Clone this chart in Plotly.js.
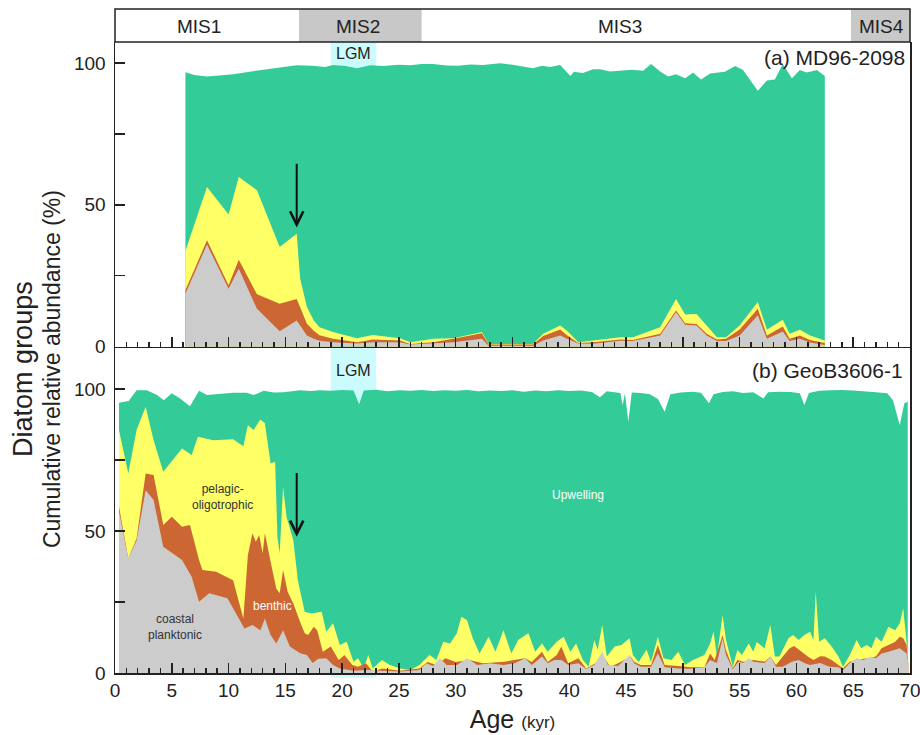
<!DOCTYPE html>
<html>
<head>
<meta charset="utf-8">
<script src="https://cdn.plot.ly/plotly-3.0.1.min.js"></script>
<style>html,body{margin:0;padding:0;background:#fff;}#chart{width:920px;height:735px;}</style>
</head>
<body>
<div id="chart"></div>
<script>
// ---------- (a) MD96-2098 : cumulative relative abundance (%) ----------
const aAgeTop = [6.2,7.0,8.1,10.4,12.0,13.4,15.0,16.0,17.4,18.5,19.2,20.3,21.3,22.5,23.6,25.0,26.0,27.0,28.0,29.2,30.2,31.3,32.4,33.9,35.0,35.5,36.8,37.6,38.3,39.2,40.1,40.4,41.2,42.1,42.7,43.6,44.5,45.5,46.5,47.2,48.0,48.7,49.4,50.2,50.9,51.6,52.4,53.0,53.7,54.6,55.3,56.6,57.4,58.1,58.8,59.6,60.3,60.9,61.8,62.5];
const aUpwelling = [96.7,95.8,95.2,96.0,97.0,97.8,98.5,99.2,99.0,98.6,99.3,98.9,98.1,99.2,98.9,99.4,99.2,99.6,99.6,99.1,99.0,99.5,99.3,99.9,99.4,99.0,98.1,99.0,98.6,99.3,95.4,96.9,96.5,97.8,97.8,97.0,97.3,97.6,97.3,99.6,97.0,95.2,96.0,94.6,96.6,94.2,96.3,96.6,96.9,98.9,97.5,90.2,93.8,94.2,99.6,94.6,97.5,96.6,97.5,95.4];
const aAgeLow = [6.2,8.1,10.0,10.9,12.5,14.5,16.0,16.3,16.9,17.5,18.0,19.2,21.3,22.7,25.1,26.0,28.0,29.8,32.3,32.9,36.8,37.7,39.2,39.8,40.8,42.1,44.5,45.6,48.0,49.4,50.2,51.2,52.1,53.0,53.8,55.0,56.6,57.4,58.8,59.4,60.3,61.2,62.5];
const aPelagic = [33.7,56.3,46.6,59.8,55.1,35.1,39.8,24,13.9,9.2,6.8,5.1,2.9,4.1,2.9,1.5,2.7,2.9,5.1,0.9,0.9,4.5,7.4,5.6,1.5,2.1,3.3,3.3,6.8,16.8,11.3,11.5,7.4,3.3,3.3,7.4,15.7,5.9,9.4,4.5,5.9,3.9,2.1];
const aBenthic = [19.8,37.5,21.6,30.6,18.4,15.1,16.8,14,8.0,5.6,4.0,2.7,1.5,2.5,2.1,0.9,1.5,2.7,4.7,0.7,0.7,3.7,6.0,4.0,1.2,1.5,2.5,2.3,4.5,12.7,8.2,7.9,4.5,2.5,2.7,6.0,13.3,3.9,7.1,2.7,3.9,2.3,1.2];
const aCoastal = [18.6,36.0,20.4,27.4,13.3,5.4,9.2,7.5,3.9,2.7,2.0,1.5,1.1,1.5,1.5,0.7,1.1,1.5,2.7,0.3,0.3,2.1,3.9,2.7,1.1,1.0,2.0,1.9,3.9,12.1,7.7,7.4,3.9,1.9,1.9,3.9,11.0,2.7,5.3,1.9,2.7,1.4,0.5];

// ---------- (b) GeoB3606-1 ----------
const bAgeUpw = [0.35,1.2,1.9,2.8,3.7,4.3,5.0,5.8,6.6,7.4,8.1,9.0,10.4,11.6,12.2,13.1,14.0,14.8,15.5,16.3,17.2,18.0,19.0,20.0,21.0,21.5,21.9,23.0,24.0,25.0,26,27,28,29,30,31,32,33,34,35,36,37,38,39,40,41,42,42.7,43.3,44.0,44.5,44.7,44.9,45.2,45.5,46.3,47.1,47.8,48.4,48.9,49.8,50.8,51.6,52.3,52.7,53.5,54.4,55.3,56.2,57.1,57.5,58.5,59.5,60.3,60.7,61.1,62.0,63.0,64.0,65.0,66,67,68,68.5,69.1,69.5,69.8];
const bUpwelling = [95.2,95.8,99.6,99.6,97.9,96.1,98.5,96.5,94.0,99.4,97.9,98.3,98.7,98.7,97.9,99.4,98.8,98.9,99.3,99.6,99.3,99.6,99.4,99.7,99.5,94.7,99.5,99.8,99.2,99.6,99.4,99.7,99.3,99.6,99.4,99.7,99.2,99.5,99.3,99.6,99.1,99.5,99.2,99.6,99.3,99.5,99.0,97.1,99.2,99.0,98.6,94.4,98.5,88.5,98.8,98.6,98.2,96.5,92.0,98.2,98.8,99.1,98.7,95.0,98.2,99.0,99.2,98.6,98.9,96.7,98.9,99.1,99.0,98.5,94.4,98.6,99.4,99.6,99.7,99.5,99.3,98.9,98.5,96.1,87.3,95.0,95.5];
const bAgePel = [0.35,1.17,1.9,2.7,3.4,4.25,5.9,6.75,7.3,8.65,10.4,11.3,11.7,12.2,12.8,13.2,13.7,14.1,14.3,14.5,14.8,15.1,15.7,16.1,16.7,17.3,18.2,18.6,19.2,19.8,20.4,21.0,21.4,21.9,22.3,22.7,23.5,24.2,25.1,26.0,26.8,27.7,28.3,28.9,29.5,30.1,30.5,31.0,31.5,32.1,32.9,33.5,34.2,34.9,35.5,36.4,37.0,37.6,38.1,38.9,39.5,40.1,40.6,41.2,41.7,42.2,42.5,42.9,43.3,44.0,44.6,45.3,45.6,46.1,46.8,47.2,47.8,48.3,49.0,49.6,50.2,50.9,51.9,52.4,52.7,53.0,53.5,53.8,54.4,54.8,55.2,55.8,56.2,56.5,57.2,57.7,58.1,58.5,59.3,59.7,60.2,60.7,61.2,61.5,61.7,62.0,62.5,63.1,63.7,64.1,64.7,65.3,65.7,66.2,66.6,67.0,67.5,68.1,68.7,69.1,69.4,69.7,69.85];
const bPelagic = [85.6,70.3,85.6,93.8,82.0,70.9,79.1,76.8,83.2,82.0,82.3,79.9,87.3,85.6,89.3,88.0,73.8,74.4,48.0,42.1,65.6,55.0,46.8,32.7,21.6,21.0,21.6,14.5,17.5,9.9,11.0,4.0,5.2,1.6,6.3,1.6,4.6,2.8,1.6,1.1,2.8,6.3,4.6,11.0,10.4,14.0,19.8,18.6,12.2,6.9,12.8,7.5,15.1,6.9,11.6,14.0,7.5,10.4,7.5,11.0,12.8,7.5,10.4,4.6,2.2,11.6,8.2,16.9,5.8,9.3,9.9,12.2,6.3,3.9,8.2,3.9,12.8,5.2,4.6,7.5,2.8,4.6,6.3,10.4,14.5,5.8,20.4,11.6,2.2,8.1,6.3,10.4,7.5,10.9,8.7,16.9,5.8,5.8,12.2,13.4,11.6,13.4,14.5,11.6,28.6,11.0,12.2,9.3,5.8,2.2,6.3,11.6,8.7,9.9,8.7,12.8,11.0,16.3,15.1,17.5,22.8,12.2,4.6];
const bAgeBen = [0.35,1.17,1.9,2.7,3.4,4.25,5.0,5.9,6.6,7.4,7.7,8.9,10.4,11.3,11.7,12.1,12.4,12.7,13.0,13.2,13.7,14.2,14.5,14.8,15.2,15.7,16.3,16.7,17.0,17.5,17.8,18.3,19.0,19.7,20.2,20.9,21.4,22.1,22.7,23.5,25.1,26.8,27.5,28.3,29.1,30.0,31.2,32.4,34.3,35.2,36.1,36.7,37.6,38.1,38.9,39.3,39.9,40.8,41.5,42.3,43.0,43.6,44.3,45.4,45.7,46.3,47.2,47.8,48.4,49.6,50.7,51.9,52.4,52.8,53.5,53.8,54.4,54.8,55.3,56.2,57.2,57.7,58.2,58.8,59.4,59.8,60.4,61.0,61.5,62.1,62.5,63.1,63.7,64.1,64.7,65.3,66.2,67.0,67.5,68.1,68.7,69.1,69.4,69.7,69.85];
const bBenthic = [58.6,40.4,47.4,70.3,69.7,52.1,55.0,51.5,52.1,39.8,36.3,35.7,32.7,19.2,41.5,49.2,46.2,48.6,42.1,49.2,39.2,29.8,28.1,36.3,28.6,24.5,18.0,14.0,13.4,16.3,15.1,7.5,9.3,4.6,6.3,2.8,2.2,3.4,0.4,1.6,0.8,1.6,3.9,2.8,5.2,3.9,4.6,3.4,4.0,4.6,5.2,3.9,7.5,3.9,6.3,9.3,3.4,5.2,1.6,3.4,5.8,2.2,3.4,5.8,4.0,2.8,2.8,9.9,2.8,2.5,2.0,2.0,6.9,4.6,13.4,8.1,1.7,4.6,4.0,4.6,4.0,5.8,2.8,5.8,8.7,9.5,7.5,5.8,4.6,5.9,5.8,4.6,2.8,1.7,4.0,4.6,5.2,5.8,8.7,9.9,11.0,12.8,12.2,9.9,3.4];
const bAgeCoa = [0.35,1.17,1.9,2.7,3.4,4.25,5.9,6.75,7.4,8.3,9.9,11.4,12.1,12.8,13.2,13.7,14.2,14.8,15.4,16.3,16.9,17.4,17.9,18.6,19.2,19.8,21.0,22.2,23.5,25.1,26.8,27.4,28.0,28.6,29.2,30.1,31.0,31.9,33.0,34.2,35.2,36.1,36.7,37.6,38.1,38.7,39.3,39.9,40.8,41.5,42.2,42.9,43.4,44.3,45.3,45.7,46.3,47.2,47.8,48.4,49.6,50.7,51.9,52.4,53.0,53.5,53.8,54.4,54.9,55.3,55.8,56.2,57.2,57.7,58.2,58.8,59.6,60.2,60.7,61.2,62.1,62.9,63.7,64.1,64.7,65.3,65.9,66.5,67.0,67.5,68.1,68.7,69.1,69.7,69.85];
const bCoastal = [57.0,40.4,46.7,64.4,60.9,44.5,39.8,33.9,25.1,28.1,26.3,15.7,16.9,15.1,19.2,13.4,10.4,15.1,9.3,7.0,6.3,3.5,5.0,5.2,2.8,1.6,0.8,1.1,0.8,0.5,1.1,3.4,2.5,5.2,2.8,2.8,5.2,2.8,3.4,2.8,3.4,5.2,2.8,5.8,3.4,4.6,4.6,2.8,3.4,1.4,2.8,7.5,2.8,2.5,6.3,3.4,2.2,2.2,6.9,2.0,1.6,1.5,2.0,4.6,3.5,12.2,6.3,1.3,4.0,3.5,5.2,4.0,3.5,5.8,2.2,2.2,4.0,4.6,3.5,2.8,3.5,2.2,2.0,1.1,3.5,5.2,4.6,5.8,5.2,6.9,7.5,8.1,8.7,6.9,3.4];

// ---------- stages, LGM, arrows ----------
const misNames = ['MIS1','MIS2','MIS3','MIS4'];
const misLabelAge = [7.4,21.4,44.5,67.5];
const misShaded = [[16.2,27.0],[64.8,70.0]];
const lgmRange = [19.0,23.0];
const arrowAge = 16.0;
const arrowA = [42, 65];   // tip, tail (%), panel a
const arrowB = [48, 71];   // tip, tail (%), panel b

const FONT = '"Liberation Sans", Arial, Helvetica, sans-serif';
const C = {upw:'#33cc99', pel:'#ffff66', ben:'#cc6633', coa:'#cccccc', lgm:'#ccfbfd', mis:'#c8c8c8', ink:'#222222'};

function area(x, y, color, xa, ya) {
  return {type:'scatter', mode:'lines', x:x, y:y, fill:'tozeroy', fillcolor:color,
          line:{width:0, color:color}, xaxis:xa, yaxis:ya, hoverinfo:'skip', showlegend:false};
}

const data = [
  area(aAgeTop, aUpwelling, C.upw, 'x2', 'y2'),
  area(aAgeLow, aPelagic, C.pel, 'x2', 'y2'),
  area(aAgeLow, aBenthic, C.ben, 'x2', 'y2'),
  area(aAgeLow, aCoastal, C.coa, 'x2', 'y2'),
  area(bAgeUpw, bUpwelling, C.upw, 'x', 'y'),
  area(bAgePel, bPelagic, C.pel, 'x', 'y'),
  area(bAgeBen, bBenthic, C.ben, 'x', 'y'),
  area(bAgeCoa, bCoastal, C.coa, 'x', 'y')
];

const yB = [0, 0.4917], yA = [0.4917, 0.9503];

const xBase = {range:[0,70], tickmode:'linear', tick0:0, dtick:5, ticks:'inside', ticklen:10, tickwidth:1.5,
  tickcolor:C.ink, showline:true, linecolor:C.ink, linewidth:1.5, showgrid:false, zeroline:false,
  ticklabeloverflow:'allow',
  tickfont:{size:19, color:C.ink, family:FONT},
  minor:{tick0:0, dtick:1, ticks:'inside', ticklen:5, tickwidth:1.5, tickcolor:C.ink, showgrid:false}};
const yBase = {tickmode:'array', tickvals:[0,25,50,75,100], ticktext:['0','','50','','100'], ticks:'inside',
  ticklen:10, tickwidth:1.5, tickcolor:C.ink, showline:true, mirror:true, linecolor:C.ink, linewidth:1.5,
  showgrid:false, zeroline:false, tickfont:{size:19, color:C.ink, family:FONT}, ticklabelstandoff:4};

const shapes = [
  {type:'rect', xref:'x', yref:'paper', x0:lgmRange[0], x1:lgmRange[1], y0:-0.007, y1:yA[1],
   fillcolor:C.lgm, line:{width:0}, layer:'below'}
];
misShaded.forEach(r => shapes.push({type:'rect', xref:'x', yref:'paper', x0:r[0], x1:r[1], y0:yA[1], y1:1,
   fillcolor:C.mis, line:{width:0}, layer:'below'}));
shapes.push({type:'rect', xref:'paper', yref:'paper', x0:0, x1:1, y0:yA[1], y1:1,
   fillcolor:'rgba(0,0,0,0)', line:{width:1.5, color:C.ink}});

const annotations = [];
misNames.forEach((n,i) => annotations.push({xref:'x', yref:'paper', x:misLabelAge[i], y:0.9729, text:n,
   showarrow:false, font:{size:19, color:C.ink}, xanchor:'center', yanchor:'middle'}));
[0.9337, 0.4563].forEach(yy => annotations.push({xref:'x', yref:'paper', x:(lgmRange[0]+lgmRange[1])/2, y:yy,
   text:'LGM', showarrow:false, font:{size:16, color:C.ink}, xanchor:'center', yanchor:'middle'}));
annotations.push({xref:'paper', yref:'paper', x:0.9962, y:0.9277, text:'(a) MD96-2098', showarrow:false,
   font:{size:21, color:C.ink}, xanchor:'right', yanchor:'middle'});
annotations.push({xref:'paper', yref:'paper', x:0.9937, y:0.4563, text:'(b) GeoB3606-1', showarrow:false,
   font:{size:21, color:C.ink}, xanchor:'right', yanchor:'middle'});
annotations.push({xref:'paper', yref:'paper', x:-0.1157, y:0.458, text:'Diatom groups', textangle:-90,
   showarrow:false, font:{size:27, color:C.ink}, xanchor:'center', yanchor:'middle'});
annotations.push({xref:'paper', yref:'paper', x:-0.079, y:0.458, text:'Cumulative relative abundance (%)', textangle:-90,
   showarrow:false, font:{size:23, color:C.ink}, xanchor:'center', yanchor:'middle'});
annotations.push({xref:'x2', yref:'y2', axref:'x2', ayref:'y2', x:arrowAge, y:arrowA[0], ax:arrowAge, ay:arrowA[1],
   text:'', showarrow:true, arrowhead:5, arrowsize:1.3, arrowwidth:2, arrowcolor:'#111'});
annotations.push({xref:'x', yref:'y', axref:'x', ayref:'y', x:arrowAge, y:arrowB[0], ax:arrowAge, ay:arrowB[1],
   text:'', showarrow:true, arrowhead:5, arrowsize:1.3, arrowwidth:2, arrowcolor:'#111'});
annotations.push({xref:'x', yref:'y', x:9.5, y:62, text:'pelagic-<br>oligotrophic', showarrow:false,
   font:{size:12, color:'#333'}, align:'center'});
annotations.push({xref:'x', yref:'y', x:13.9, y:23.6, text:'benthic', showarrow:false,
   font:{size:12, color:'#ffffff'}});
annotations.push({xref:'x', yref:'y', x:5.3, y:16.2, text:'coastal<br>planktonic', showarrow:false,
   font:{size:12, color:'#333'}, align:'center'});
annotations.push({xref:'x', yref:'y', x:40.8, y:62.7, text:'Upwelling', showarrow:false,
   font:{size:12, color:'#ffffff'}});

const layout = {
  width:920, height:735, margin:{l:115, r:10, t:9, b:62},
  paper_bgcolor:'#ffffff', plot_bgcolor:'rgba(0,0,0,0)', showlegend:false,
  font:{family:FONT, color:C.ink},
  xaxis: Object.assign({}, xBase, {domain:[0,1], anchor:'y',
     title:{text:'Age <span style="font-size:17px">(kyr)</span>', font:{size:25, color:C.ink}, standoff:10}}),
  xaxis2: Object.assign({}, xBase, {domain:[0,1], anchor:'y2', matches:'x', showticklabels:false}),
  yaxis: Object.assign({}, yBase, {domain:yB, range:[0,115], anchor:'x'}),
  yaxis2: Object.assign({}, yBase, {domain:yA, range:[0,107.4], anchor:'x2'}),
  shapes:shapes, annotations:annotations
};

Plotly.newPlot('chart', data, layout, {displayModeBar:false, staticPlot:true});
</script>
</body>
</html>
